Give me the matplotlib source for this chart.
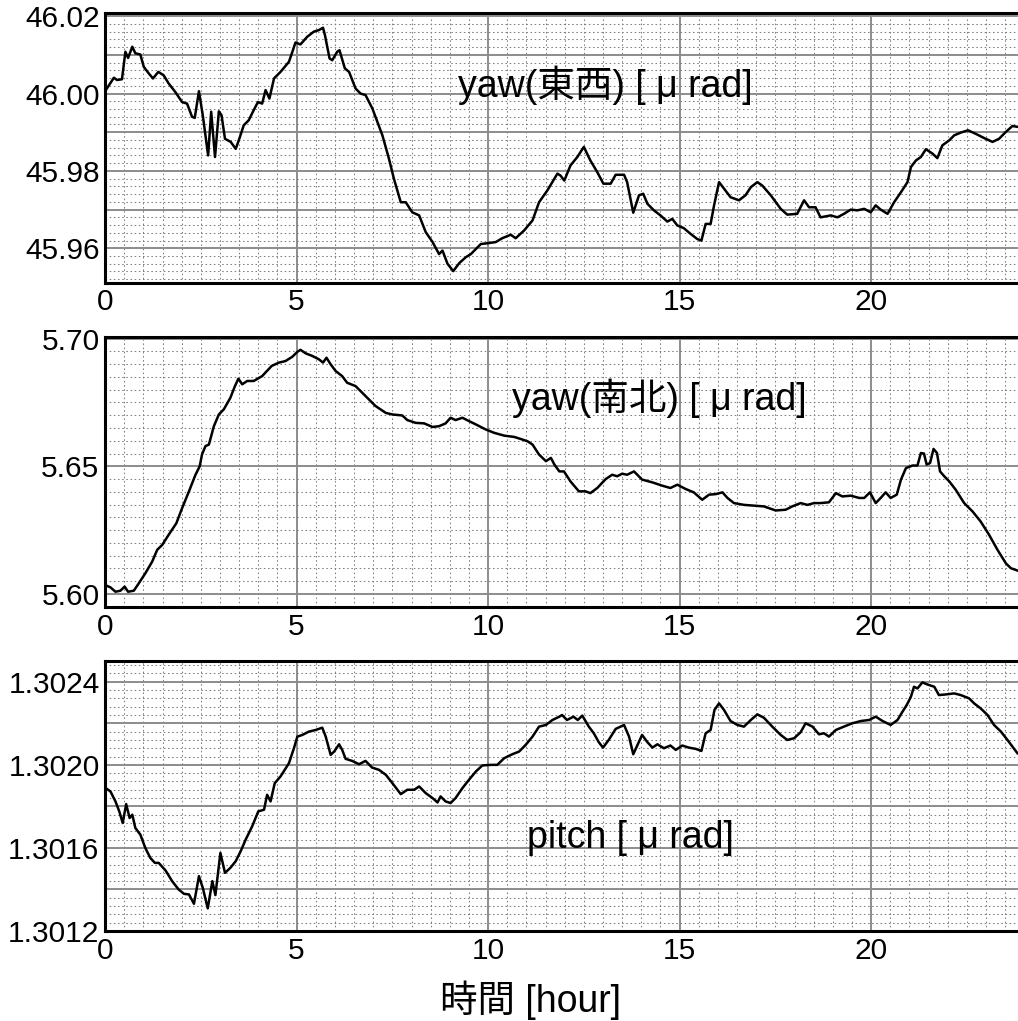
import matplotlib
matplotlib.use("Agg")
import matplotlib.pyplot as plt
from matplotlib.ticker import MultipleLocator, FuncFormatter

plt.rcParams['font.family'] = ['Liberation Sans', 'Noto Sans CJK JP', 'DejaVu Sans']

# ---- data (hours, values) ----
ew_t = [0, 0.23, 0.31, 0.44, 0.53, 0.60, 0.71, 0.79, 0.92, 1.01, 1.14, 1.25, 1.39, 1.53, 1.66, 1.84,
        2.01, 2.14, 2.27, 2.34, 2.45, 2.55, 2.69, 2.77, 2.87, 2.97, 3.04, 3.13, 3.28, 3.41, 3.49, 3.62,
        3.75, 3.88, 3.99, 4.10, 4.19, 4.29, 4.41, 4.58, 4.80, 4.89, 4.97, 5.10, 5.28, 5.45, 5.58, 5.69,
        5.74, 5.86, 5.93, 6.06, 6.12, 6.26, 6.37, 6.54, 6.67, 6.80, 6.98, 7.24, 7.41, 7.54, 7.72, 7.85,
        8.02, 8.20, 8.37, 8.55, 8.72, 8.81, 8.94, 9.09, 9.25, 9.42, 9.55, 9.81, 9.98, 10.20, 10.37, 10.59,
        10.72, 10.94, 11.16, 11.33, 11.55, 11.81, 11.89, 11.99, 12.15, 12.33, 12.50, 12.67, 12.85, 13.01,
        13.20, 13.33, 13.55, 13.63, 13.79, 13.94, 14.05, 14.16, 14.33, 14.50, 14.68, 14.81, 14.94, 15.11,
        15.29, 15.46, 15.57, 15.68, 15.81, 15.90, 16.03, 16.16, 16.33, 16.55, 16.72, 16.86, 17.03, 17.16,
        17.38, 17.64, 17.81, 18.07, 18.25, 18.38, 18.55, 18.68, 18.95, 19.12, 19.29, 19.47, 19.64, 19.82,
        19.99, 20.12, 20.25, 20.43, 20.60, 20.78, 20.95, 21.04, 21.17, 21.30, 21.43, 21.60, 21.73, 21.86,
        22.04, 22.17, 22.34, 22.53, 22.73, 22.95, 23.17, 23.34, 23.52, 23.69, 23.82]
ew_v = [46.0006, 46.0041, 46.0035, 46.0037, 46.0108, 46.0092, 46.0121, 46.0104, 46.0101, 46.0069, 46.0052,
        46.0039, 46.0056, 46.0047, 46.0026, 46.0003, 45.9978, 45.9974, 45.9940, 45.9937, 46.0006, 45.9944,
        45.9840, 45.9953, 45.9836, 45.9954, 45.9944, 45.9883, 45.9875, 45.9857, 45.9879, 45.9918, 45.9931,
        45.9957, 45.9978, 45.9974, 46.0009, 45.9987, 46.0039, 46.0056, 46.0082, 46.0108, 46.0132, 46.0127,
        46.0147, 46.0160, 46.0164, 46.0170, 46.0151, 46.0091, 46.0086, 46.0108, 46.0112, 46.0065, 46.0056,
        46.0013, 46.0000, 45.9996, 45.9961, 45.9892, 45.9832, 45.9780, 45.9719, 45.9719, 45.9693, 45.9685,
        45.9642, 45.9616, 45.9585, 45.9594, 45.9560, 45.9541, 45.9562, 45.9577, 45.9585, 45.9611, 45.9613,
        45.9616, 45.9626, 45.9635, 45.9626, 45.9646, 45.9672, 45.9719, 45.9750, 45.9793, 45.9788, 45.9775,
        45.9814, 45.9836, 45.9862, 45.9827, 45.9797, 45.9767, 45.9767, 45.9790, 45.9790, 45.9771, 45.9692,
        45.9737, 45.9741, 45.9715, 45.9698, 45.9685, 45.9669, 45.9676, 45.9659, 45.9652, 45.9637, 45.9624,
        45.9620, 45.9663, 45.9663, 45.9711, 45.9771, 45.9754, 45.9732, 45.9724, 45.9737, 45.9758, 45.9771,
        45.9762, 45.9737, 45.9702, 45.9687, 45.9689, 45.9724, 45.9706, 45.9706, 45.9680, 45.9685, 45.9680,
        45.9689, 45.9700, 45.9698, 45.9702, 45.9693, 45.9711, 45.9700, 45.9689, 45.9719, 45.9745, 45.9771,
        45.9810, 45.9827, 45.9836, 45.9856, 45.9845, 45.9833, 45.9866, 45.9879, 45.9892, 45.9899, 45.9905,
        45.9896, 45.9885, 45.9875, 45.9883, 45.9901, 45.9916, 45.9914]

ns_t = [0, 0.14, 0.27, 0.40, 0.51, 0.60, 0.75, 0.88, 1.05, 1.23, 1.36, 1.49, 1.66, 1.86, 2.01, 2.19, 2.36,
        2.47, 2.53, 2.62, 2.71, 2.84, 2.97, 3.10, 3.27, 3.39, 3.48, 3.58, 3.71, 3.88, 4.10, 4.28, 4.35, 4.54,
        4.71, 4.89, 5.02, 5.10, 5.24, 5.41, 5.58, 5.69, 5.78, 5.89, 6.02, 6.19, 6.32, 6.54, 6.80, 7.06, 7.33,
        7.50, 7.76, 7.89, 8.11, 8.33, 8.55, 8.72, 8.89, 9.02, 9.15, 9.33, 9.50, 9.68, 9.94, 10.16, 10.42,
        10.68, 10.85, 11.03, 11.16, 11.33, 11.51, 11.64, 11.73, 11.86, 11.98, 12.15, 12.37, 12.54, 12.67,
        12.85, 13.07, 13.24, 13.37, 13.50, 13.63, 13.81, 14.02, 14.29, 14.55, 14.76, 14.94, 15.16, 15.37,
        15.59, 15.77, 15.94, 16.12, 16.25, 16.42, 16.68, 16.94, 17.20, 17.51, 17.77, 17.94, 18.16, 18.34,
        18.51, 18.68, 18.90, 19.08, 19.25, 19.47, 19.69, 19.82, 19.97, 20.12, 20.25, 20.38, 20.51, 20.67,
        20.78, 20.91, 21.08, 21.21, 21.30, 21.38, 21.45, 21.54, 21.63, 21.72, 21.80, 21.91, 22.04, 22.21,
        22.43, 22.65, 22.86, 23.08, 23.30, 23.52, 23.65, 23.82]
ns_v = [5.6035, 5.6026, 5.6009, 5.6013, 5.6029, 5.6009, 5.6013, 5.6042, 5.6081, 5.6127, 5.6173, 5.6192,
        5.6232, 5.6277, 5.6336, 5.6402, 5.6467, 5.6500, 5.6546, 5.6579, 5.6585, 5.6657, 5.6703, 5.6723,
        5.6768, 5.6814, 5.6843, 5.6821, 5.6834, 5.6834, 5.6853, 5.6882, 5.6893, 5.6906, 5.6912, 5.6929,
        5.6948, 5.6956, 5.6942, 5.6932, 5.6919, 5.6906, 5.6925, 5.6899, 5.6873, 5.6853, 5.6827, 5.6814,
        5.6775, 5.6736, 5.6709, 5.6703, 5.6699, 5.6681, 5.6670, 5.6668, 5.6654, 5.6657, 5.6668, 5.6690,
        5.6681, 5.6690, 5.6677, 5.6664, 5.6644, 5.6631, 5.6620, 5.6615, 5.6607, 5.6598, 5.6585, 5.6546,
        5.6520, 5.6533, 5.6507, 5.6480, 5.6480, 5.6441, 5.6402, 5.6402, 5.6395, 5.6415, 5.6450, 5.6467,
        5.6461, 5.6471, 5.6467, 5.6480, 5.6448, 5.6437, 5.6424, 5.6415, 5.6428, 5.6411, 5.6398, 5.6369,
        5.6389, 5.6391, 5.6398, 5.6376, 5.6356, 5.6349, 5.6346, 5.6343, 5.6327, 5.6330, 5.6343, 5.6356,
        5.6349, 5.6356, 5.6356, 5.6359, 5.6395, 5.6382, 5.6385, 5.6376, 5.6376, 5.6398, 5.6356, 5.6376,
        5.6398, 5.6376, 5.6389, 5.6448, 5.6493, 5.6503, 5.6503, 5.6552, 5.6550, 5.6507, 5.6513, 5.6568,
        5.6552, 5.6480, 5.6461, 5.6441, 5.6408, 5.6356, 5.6323, 5.6284, 5.6232, 5.6173, 5.6120, 5.6101,
        5.6092]

pt_t = [0, 0.14, 0.27, 0.37, 0.46, 0.55, 0.64, 0.71, 0.79, 0.92, 1.05, 1.18, 1.30, 1.40, 1.58, 1.75, 1.92,
        2.06, 2.19, 2.32, 2.45, 2.55, 2.68, 2.80, 2.88, 3.01, 3.13, 3.27, 3.41, 3.54, 3.67, 3.84, 4.00, 4.15,
        4.23, 4.32, 4.43, 4.58, 4.80, 4.93, 5.02, 5.15, 5.32, 5.50, 5.67, 5.76, 5.89, 5.98, 6.11, 6.19, 6.28,
        6.45, 6.63, 6.80, 6.97, 7.15, 7.33, 7.50, 7.72, 7.89, 8.07, 8.20, 8.37, 8.55, 8.68, 8.76, 8.89, 9.02,
        9.15, 9.33, 9.50, 9.68, 9.85, 10.07, 10.24, 10.42, 10.63, 10.81, 10.98, 11.16, 11.33, 11.51, 11.68,
        11.86, 11.93, 12.06, 12.23, 12.34, 12.46, 12.63, 12.76, 12.89, 13.00, 13.15, 13.33, 13.55, 13.68,
        13.79, 13.90, 14.02, 14.16, 14.29, 14.42, 14.59, 14.76, 14.90, 15.07, 15.24, 15.42, 15.57, 15.68,
        15.81, 15.91, 16.03, 16.16, 16.33, 16.51, 16.68, 16.86, 17.03, 17.20, 17.42, 17.64, 17.81, 17.99,
        18.16, 18.29, 18.47, 18.64, 18.77, 18.90, 19.08, 19.29, 19.51, 19.73, 19.95, 20.12, 20.30, 20.51,
        20.69, 20.82, 20.93, 21.04, 21.12, 21.21, 21.34, 21.47, 21.65, 21.77, 21.95, 22.17, 22.34, 22.56,
        22.69, 22.86, 23.04, 23.21, 23.39, 23.56, 23.69, 23.82]
pt_v = [1.301890, 1.301872, 1.301824, 1.301776, 1.301720, 1.301811, 1.301744, 1.301760, 1.301696, 1.301664,
        1.301600, 1.301552, 1.301528, 1.301528, 1.301491, 1.301440, 1.301400, 1.301379, 1.301376, 1.301331,
        1.301464, 1.301408, 1.301309, 1.301440, 1.301373, 1.301576, 1.301480, 1.301504, 1.301536, 1.301584,
        1.301640, 1.301704, 1.301776, 1.301784, 1.301856, 1.301824, 1.301912, 1.301944, 1.302008, 1.302080,
        1.302136, 1.302144, 1.302160, 1.302168, 1.302179, 1.302136, 1.302048, 1.302064, 1.302099, 1.302072,
        1.302029, 1.302019, 1.302003, 1.302019, 1.301987, 1.301976, 1.301952, 1.301912, 1.301859, 1.301880,
        1.301880, 1.301896, 1.301864, 1.301840, 1.301819, 1.301848, 1.301824, 1.301816, 1.301840, 1.301888,
        1.301928, 1.301968, 1.301997, 1.302000, 1.302000, 1.302032, 1.302051, 1.302064, 1.302096, 1.302136,
        1.302184, 1.302192, 1.302216, 1.302232, 1.302240, 1.302216, 1.302232, 1.302216, 1.302237, 1.302184,
        1.302152, 1.302109, 1.302083, 1.302120, 1.302173, 1.302192, 1.302136, 1.302051, 1.302096, 1.302144,
        1.302109, 1.302083, 1.302099, 1.302080, 1.302093, 1.302072, 1.302093, 1.302083, 1.302077, 1.302067,
        1.302152, 1.302168, 1.302264, 1.302296, 1.302264, 1.302211, 1.302192, 1.302184, 1.302216, 1.302243,
        1.302227, 1.302184, 1.302144, 1.302120, 1.302128, 1.302157, 1.302200, 1.302184, 1.302147, 1.302152,
        1.302136, 1.302168, 1.302184, 1.302200, 1.302211, 1.302216, 1.302232, 1.302211, 1.302192, 1.302216,
        1.302256, 1.302288, 1.302328, 1.302376, 1.302368, 1.302397, 1.302387, 1.302376, 1.302336, 1.302339,
        1.302344, 1.302336, 1.302320, 1.302296, 1.302272, 1.302240, 1.302192, 1.302160, 1.302120, 1.302088,
        1.302056]

labels = ["yaw(東西) [ μ rad]", "yaw(南北) [ μ rad]", "pitch [ μ rad]"]
xticks = [0, 5, 10, 15, 20]
xlabel = "時間 [hour]"

# ---- figure ----
fig = plt.figure(figsize=(10.18, 10.21), dpi=100)
W = 1018.0
H = 1021.0
left = 105.1 / W
width = 919.2 / W

specs = [
    # (t, v, top_px, bottom_px, ylim, major, minor, labelstep, fmt, label_pos)
    (ew_t, ew_v, 12.7, 282.7, (45.9511, 46.0209), 0.01, 0.002, 2, "{:.2f}", (0.384, 0.732)),
    (ns_t, ns_v, 337.3, 607.3, (5.5948, 5.7005), 0.05, 0.005, 1, "{:.2f}", (0.443, 0.775)),
    (pt_t, pt_v, 661.0, 931.0, (1.3012, 1.30250), 0.0002, 0.00004, 2, "{:.4f}", (0.459, 0.344)),
]

for (t, v, top, bot, ylim, major, minor, step, fmt, lpos), lab in zip(specs, labels):
    ax = fig.add_axes([left, 1 - bot / H, width, (bot - top) / H])
    ax.plot(t, v, color="black", lw=1.8, zorder=3)
    ax.set_xlim(0, 24)
    ax.set_ylim(*ylim)
    ax.set_xticks(xticks)
    ax.xaxis.set_minor_locator(MultipleLocator(0.5))
    ax.yaxis.set_major_locator(MultipleLocator(major))
    ax.yaxis.set_minor_locator(MultipleLocator(minor))

    def yfmt(val, pos, major=major, step=step, fmt=fmt):
        k = int(round(val / major))
        if k % step != 0:
            return ""
        return fmt.format(val)

    ax.yaxis.set_major_formatter(FuncFormatter(yfmt))
    ax.xaxis.set_major_formatter(FuncFormatter(lambda val, pos: f"{int(round(val))}"))
    ax.grid(which="major", color="#8c8c8c", lw=1.4, ls="-", zorder=1)
    ax.grid(which="minor", color="#808080", lw=0.75, ls=(0, (1.5, 2.5)), zorder=1)
    ax.set_axisbelow(True)
    ax.tick_params(which="both", length=0, labelsize=21.5, pad=4)
    for s in ["left", "top", "bottom"]:
        ax.spines[s].set_linewidth(2.2)
        ax.spines[s].set_color("black")
    ax.spines["right"].set_visible(False)
    ax.text(lpos[0], lpos[1], lab, transform=ax.transAxes, fontsize=27,
            ha="left", va="center", zorder=4)

fig.text(531 / W, 1 - 1000 / H, xlabel, fontsize=27, ha="center", va="center")

fig.savefig("out.png", dpi=100)
